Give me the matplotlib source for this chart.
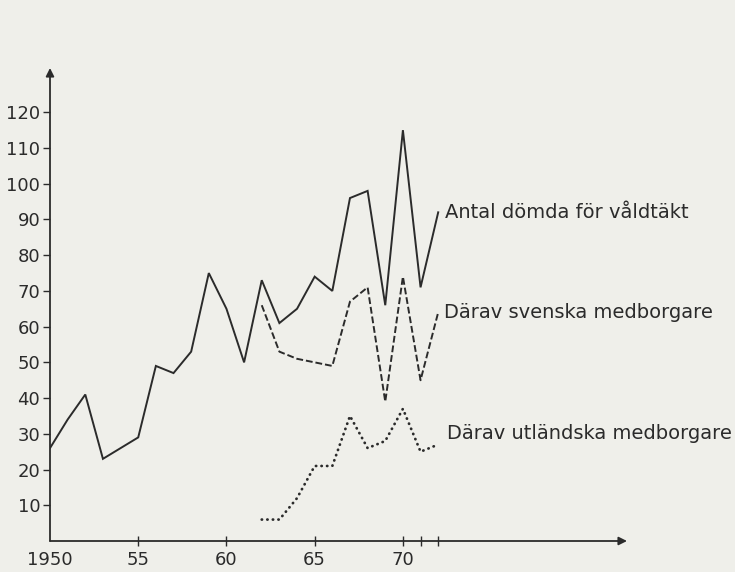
import matplotlib.pyplot as plt

# Data
years_total = list(range(1950, 1973))
total = [26, 34, 41, 23, 26, 29, 49, 47, 53, 75, 65, 50,
         73, 61, 65, 74, 70, 96, 98, 66, 115, 71, 92]

years_sub = list(range(1962, 1973))
svenska = [66, 53, 51, 50, 49, 67, 71, 39, 74, 45, 64]
utlandska = [6, 6, 12, 21, 21, 35, 26, 28, 37, 25, 27]

yticks = list(range(10, 130, 10))
xticks = [1950, 1955, 1960, 1965, 1970, 1971, 1972]
xticklabels = ['1950', '55', '60', '65', '70', '', '']

labels = ['Antal dömda för våldtäkt',
          'Därav svenska medborgare',
          'Därav utländska medborgare']

bg = '#efefea'
ink = '#2b2b2b'

plt.rcParams['font.family'] = ['DejaVu Sans']

fig = plt.figure(figsize=(7.35, 5.72), dpi=100, facecolor=bg)
ax = fig.add_axes([50 / 735, 31 / 572, 577 / 735, 473 / 572])
ax.set_facecolor(bg)
ax.set_xlim(1950, 1982.7)
ax.set_ylim(0, 132.4)

for s in ax.spines.values():
    s.set_visible(False)

# axes with arrow heads
ax.annotate('', xy=(1, 0), xytext=(0, 0), xycoords='axes fraction',
            arrowprops=dict(arrowstyle='-|>', color=ink, lw=1.3,
                            mutation_scale=12, shrinkA=0, shrinkB=0))
ax.annotate('', xy=(0, 1), xytext=(0, 0), xycoords='axes fraction',
            arrowprops=dict(arrowstyle='-|>', color=ink, lw=1.3,
                            mutation_scale=12, shrinkA=0, shrinkB=0))

# series
ax.plot(years_total, total, color=ink, lw=1.4, solid_joinstyle='miter')
ax.plot(years_sub, svenska, color=ink, lw=1.4, linestyle=(0, (3.5, 1.5)))
ax.plot(years_sub, utlandska, color=ink, lw=2.0, linestyle=(0, (0.1, 1.9)),
        dash_capstyle='round')

# line labels
ax.annotate(labels[0], xy=(years_total[-1], total[-1]), xytext=(5, 0),
            textcoords='offset points', va='center', ha='left',
            fontsize=14, color=ink)
ax.annotate(labels[1], xy=(years_sub[-1], svenska[-1]), xytext=(4, 0),
            textcoords='offset points', va='center', ha='left',
            fontsize=14, color=ink)
ax.annotate(labels[2], xy=(years_sub[-1], utlandska[-1]), xytext=(6, 8),
            textcoords='offset points', va='center', ha='left',
            fontsize=14, color=ink)

# ticks
ax.set_yticks(yticks)
ax.set_yticklabels([str(v) for v in yticks])
ax.set_xticks(xticks)
ax.set_xticklabels(xticklabels)
ax.tick_params(axis='y', direction='out', length=5, width=1, color=ink,
               labelsize=13, labelcolor=ink, pad=2)
ax.tick_params(axis='x', direction='inout', length=7, width=1, color=ink,
               labelsize=13, labelcolor=ink, pad=4)
ax.xaxis.get_major_ticks()[0].tick1line.set_visible(False)

fig.savefig('out.png', dpi=100, facecolor=bg)
